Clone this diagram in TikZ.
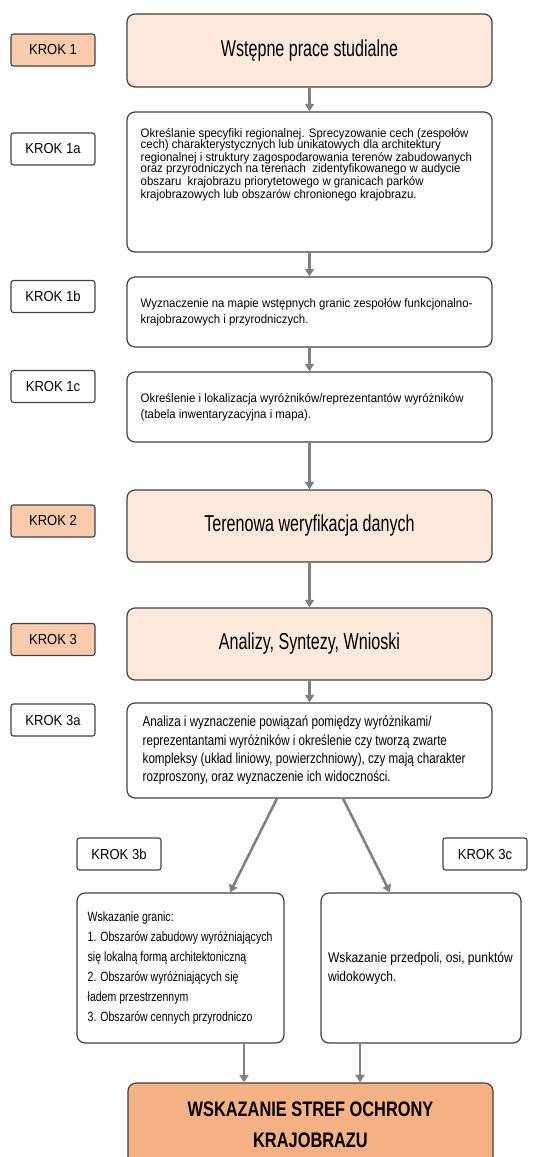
\documentclass[tikz,border=0pt]{standalone}
\usepackage{graphicx}
\usepackage{fontspec}
\setmainfont{Liberation Sans}
\usetikzlibrary{arrows.meta}
\setlength{\parindent}{0pt}
\def\squeeze#1#2{\scalebox{#1}[1]{#2}}
\definecolor{krokorange}{HTML}{F8CBAD}
\definecolor{peach}{HTML}{FCE9DB}
\definecolor{strefa}{HTML}{F4B183}
\definecolor{rim}{HTML}{404040}
\definecolor{flowgray}{HTML}{808080}
\tikzset{
	krok/.style={draw=rim, line width=1.1pt, rounded corners=2.5pt, minimum width=84pt, minimum height=32pt, inner sep=0pt, font=\fontsize{14.5pt}{16pt}\selectfont},
	krokhot/.style={krok, fill=krokorange},
	infobox/.style={draw=rim, line width=1.2pt, rounded corners=8pt, minimum width=365pt, inner sep=0pt},
	headbox/.style={infobox, fill=peach, font=\fontsize{23pt}{26pt}\selectfont},
	flow/.style={draw=flowgray, line width=2.6pt, -{Triangle[length=7.5pt,width=9pt]}}
}

\begin{document}
\begin{tikzpicture}[x=1pt, y=-1pt]
			%%%%% START %%%%%
			\useasboundingbox (0, 0) rectangle (539, 1157);
			
			\node[krokhot] (k1) at (53, 50) {\squeeze{0.9}{KROK 1}};
			\node[krok] (k1a) at (53, 149) {\squeeze{0.9}{KROK 1a}};
			\node[krok] (k1b) at (53, 296.5) {\squeeze{0.9}{KROK 1b}};
			\node[krok] (k1c) at (53, 386.5) {\squeeze{0.9}{KROK 1c}};
			\node[krokhot] (k2) at (53, 521) {\squeeze{0.9}{KROK 2}};
			\node[krokhot] (k3) at (53, 639.5) {\squeeze{0.9}{KROK 3}};
			\node[krok] (k3a) at (53, 720) {\squeeze{0.9}{KROK 3a}};
			\node[krok] (k3b) at (119, 854) {\squeeze{0.9}{KROK 3b}};
			\node[krok] (k3c) at (485, 854) {\squeeze{0.9}{KROK 3c}};
			
			\node[headbox, minimum height=73pt] (b1) at (309.5, 50.5) {\squeeze{0.7}{Wstępne prace studialne}};
			
			\node[infobox, minimum height=140pt, font=\fontsize{12.3pt}{11.6pt}\selectfont] (b1a) at (309.5, 182) {\squeeze{0.93}{\parbox[c][108pt][t]{363pt}{\raggedright
				Określanie specyfiki regionalnej. Sprecyzowanie cech (zespołów\\
				cech) charakterystycznych lub unikatowych dla architektury\\
				regionalnej i struktury zagospodarowania terenów zabudowanych\\
				oraz przyrodniczych na terenach\ \ zidentyfikowanego w audycie\\
				obszaru\ \ krajobrazu priorytetowego w granicach parków\\
				krajobrazowych lub obszarów chronionego krajobrazu.}}};
			
			\node[infobox, minimum height=70pt, font=\fontsize{12.3pt}{16.5pt}\selectfont] (b1b) at (309.5, 312) {\squeeze{0.93}{\parbox{363pt}{\raggedright
				Wyznaczenie na mapie wstępnych granic zespołów funkcjonalno-\\
				krajobrazowych i przyrodniczych.}}};
			
			\node[infobox, minimum height=70pt, font=\fontsize{12.3pt}{16.5pt}\selectfont] (b1c) at (309.5, 407) {\squeeze{0.93}{\parbox{363pt}{\raggedright
				Określenie i lokalizacja wyróżników/reprezentantów wyróżników\\
				(tabela inwentaryzacyjna i mapa).}}};
			
			\node[headbox, minimum height=72pt] (b2) at (309.5, 526) {\squeeze{0.7}{Terenowa weryfikacja danych}};
			\node[headbox, minimum height=72pt] (b3) at (309.5, 644) {\squeeze{0.7}{Analizy, Syntezy, Wnioski}};
			
			\node[infobox, minimum height=95pt, font=\fontsize{14.5pt}{18.3pt}\selectfont] (b3a) at (309.5, 750.5) {\squeeze{0.8}{\parbox{417pt}{\raggedright
				Analiza i wyznaczenie powiązań pomiędzy wyróżnikami/\\
				reprezentantami wyróżników i określenie czy tworzą zwarte\\
				kompleksy (układ liniowy, powierzchniowy), czy mają charakter\\
				rozproszony, oraz wyznaczenie ich widoczności.}}};
			
			\node[infobox, minimum width=207pt, minimum height=150pt, font=\fontsize{13.5pt}{20pt}\selectfont] (b3b) at (180.5, 968) {\squeeze{0.78}{\parbox{238pt}{\raggedright
				Wskazanie granic:\\
				1. Obszarów zabudowy wyróżniających\\
				się lokalną formą architektoniczną\\
				2. Obszarów wyróżniających się\\
				ładem przestrzennym\\
				3. Obszarów cennych przyrodniczo}}};
			
			\node[infobox, minimum width=200pt, minimum height=150pt, font=\fontsize{14pt}{19pt}\selectfont] (b3c) at (421, 968) {\squeeze{0.86}{\parbox{216pt}{\raggedright
				Wskazanie przedpoli, osi, punktów\\
				widokowych.}}};
			
			\node[infobox, fill=strefa, minimum height=84pt, align=center, font=\bfseries\fontsize{21pt}{31pt}\selectfont] (bfin) at (310.5, 1125) {\squeeze{0.78}{WSKAZANIE STREF OCHRONY}\\\squeeze{0.78}{KRAJOBRAZU}};
			
			\draw[flow] (b1) -- (b1a);
			\draw[flow] (b1a) -- (b1b);
			\draw[flow] (b1b) -- (b1c);
			\draw[flow] (b1c) -- (b2);
			\draw[flow] (b2) -- (b3);
			\draw[flow] (b3) -- (b3a);
			
			\draw[flow] ([xshift=-32.5pt]b3a.south) -- ([xshift=49.5pt]b3b.north);
			\draw[flow] ([xshift=33.5pt]b3a.south) -- ([xshift=-31pt]b3c.north);
			
			\coordinate (l3b) at ([xshift=63.5pt]b3b.south);
			\coordinate (l3c) at ([xshift=-61pt]b3c.south);
			\draw[flow] (l3b) -- (l3b |- bfin.north);
			\draw[flow] (l3c) -- (l3c |- bfin.north);
			
			%%%%% END %%%%%
\end{tikzpicture}
\end{document}
